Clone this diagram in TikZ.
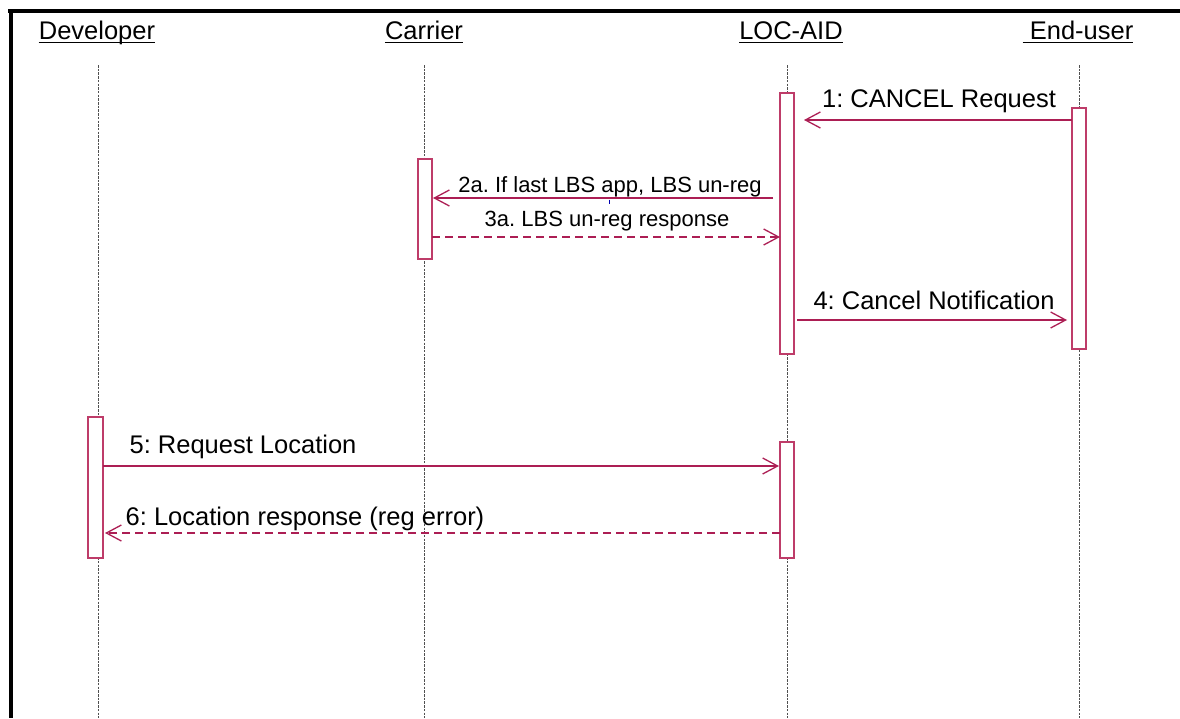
\documentclass[tikz,border=0pt]{standalone}
\usepackage{fontspec}
\setmainfont{Liberation Sans}
\usetikzlibrary{arrows.meta}
\frenchspacing
\definecolor{msgc}{RGB}{172,30,84}
\definecolor{boxc}{RGB}{190,60,105}
\definecolor{lifec}{RGB}{80,80,80}
\tikzset{
  hdr/.style={anchor=base, inner sep=0pt, font=\fontsize{25.5}{28}\selectfont},
  lbl/.style={anchor=base, inner sep=0pt, font=\fontsize{25.5}{28}\selectfont},
  slbl/.style={anchor=base, inner sep=0pt, font=\fontsize{22}{24}\selectfont},
  lifeline/.style={draw=lifec, line width=0.9pt, dash pattern=on 2.5pt off 1.2pt},
  actbox/.style={draw=boxc, fill=white, line width=1.3pt},
  msg/.style={draw=msgc, line width=1.3pt, -{Straight Barb[length=15pt, width=16pt, line width=1.3pt]}},
  rmsg/.style={msg, dash pattern=on 8pt off 5pt},
  uline/.style={line width=1.5pt}
}
\begin{document}
\begin{tikzpicture}[x=1pt, y=-1pt]
\frenchspacing
\useasboundingbox (0,0) rectangle (1180,718);
% frame
\draw[line width=3.5pt] (8,11) -- (1180,11);
\draw[line width=4pt] (10.5,9.5) -- (10.5,718);
% headers
\node[hdr] (hdev) at (97,39) {Developer};
\node[hdr] (hcar) at (424,39) {Carrier};
\node[hdr] (hloc) at (791,39) {LOC-AID};
\node[hdr] (heu) at (1078,39) {\ End-user};
\foreach \h in {hdev,hcar,hloc,heu}
  \draw[uline] ([yshift=-3.5pt]\h.base west) -- ([yshift=-3.5pt]\h.base east);
% lifelines
\coordinate (ldevT) at (98,65);  \coordinate (ldevB) at (98,718);
\coordinate (lcarT) at (424,65); \coordinate (lcarB) at (424,718);
\coordinate (llocT) at (787,65); \coordinate (llocB) at (787,718);
\coordinate (leuT) at (1079,65); \coordinate (leuB) at (1079,718);
\draw[lifeline] (ldevT) -- (ldevB);
\draw[lifeline] (lcarT) -- (lcarB);
\draw[lifeline] (llocT) -- (llocB);
\draw[lifeline] (leuT) -- (leuB);
% activation boxes
\draw[actbox] (780,93) rectangle (794,354);
\draw[actbox] (1072,108) rectangle (1086,349);
\draw[actbox] (418,159) rectangle (432,259);
\draw[actbox] (88,417) rectangle (103,558);
\draw[actbox] (780,442) rectangle (794,558);
% message endpoints
\coordinate (m1s) at (1072,120); \coordinate (m1e) at (804,120);
\coordinate (m2s) at (773,198);  \coordinate (m2e) at (433,198);
\coordinate (m3s) at (432,237);  \coordinate (m3e) at (780,237);
\coordinate (m4s) at (797,320);  \coordinate (m4e) at (1067,320);
\coordinate (m5s) at (103,466);  \coordinate (m5e) at (779,466);
\coordinate (m6s) at (780,533);  \coordinate (m6e) at (105,533);
% messages
\draw[msg] (m1s) -- (m1e);
\draw[msg] (m2s) -- (m2e);
\draw[rmsg] (m3s) -- (m3e);
\draw[msg] (m4s) -- (m4e);
\draw[msg] (m5s) -- (m5e);
\draw[rmsg] (m6s) -- (m6e);
% labels
\node[lbl] (t1) at (939,107) {1: CANCEL Request};
\node[slbl] (t2) at (610,192) {2a. If last LBS app, LBS un-reg};
\node[slbl] (t3) at (607,226) {3a. LBS un-reg response};
\node[lbl] (t4) at (934,309) {4: Cancel Notification};
\node[lbl] (t5) at (243,453) {5: Request Location};
\node[lbl] (t6) at (305,525) {6: Location response (reg error)};
% small stray tick
\draw[blue!70!black, line width=0.8pt] (609,199.5) -- (609,204);
\end{tikzpicture}
\end{document}
